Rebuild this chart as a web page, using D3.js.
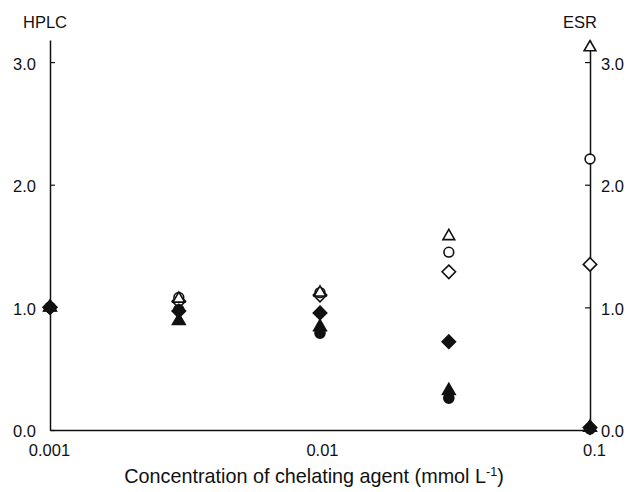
<!DOCTYPE html>
<html><head><meta charset="utf-8">
<script src="https://cdn.jsdelivr.net/npm/d3@7"></script>
<style>body{margin:0;background:#fff}svg{display:block}text{font-family:"Liberation Sans",Arial,sans-serif;fill:#111}</style>
</head><body><svg id="c" width="629" height="492"></svg>
<script>
const conc = [0.001, 0.003, 0.01, 0.03, 0.1];
const openTriangle = [1.0, 1.07, 1.12, 1.58, 3.12];
const openCircle   = [1.0, 1.08, 1.12, 1.45, 2.21];
const openDiamond  = [1.0, 1.05, 1.10, 1.29, 1.35];
const filledDiamond  = [1.0, 0.97, 0.955, 0.72, 0.02];
const filledTriangle = [1.0, 0.89, 0.84, 0.32, 0.02];
const filledCircle   = [1.0, 0.98, 0.79, 0.26, 0.01];
const xTicks = [0.001, 0.01, 0.1];
const xTickLabels = ["0.001", "0.01", "0.1"];
const yTicks = [0, 1, 2, 3];
const yTickLabels = ["0.0", "1.0", "2.0", "3.0"];

const svg = d3.select("#c");
const x = d3.scaleLog().domain([0.001, 0.1]).range([50, 590]);
const y = d3.scaleLinear().domain([0, 3.18]).range([430, 40]);

const FS = 16.5;
const left = d3.axisLeft(y).tickValues(yTicks).tickFormat((d,i)=>yTickLabels[i]).tickSizeInner(-5).tickSizeOuter(0).tickPadding(14);
const gl = svg.append("g").attr("transform","translate(50,0)").call(left);
const right = d3.axisRight(y).tickValues(yTicks).tickFormat((d,i)=>yTickLabels[i]).tickSizeInner(-5).tickSizeOuter(0).tickPadding(11);
const gr = svg.append("g").attr("transform","translate(590,0)").call(right);
const bottom = d3.axisBottom(x).tickValues(xTicks).tickFormat((d,i)=>xTickLabels[i]).tickSize(0).tickPadding(14);
const gb = svg.append("g").attr("transform","translate(0,430)").call(bottom);
[gl,gr,gb].forEach(g=>{
  g.selectAll(".domain").attr("stroke","#111").attr("stroke-width",1.5);
  g.selectAll(".tick line").attr("stroke","#111").attr("stroke-width",1.2);
  g.selectAll(".tick text").attr("font-size",FS).attr("fill","#111").style("font-family","Liberation Sans, Arial, sans-serif");
});
gl.selectAll(".tick text").attr("dy","0.42em");
gr.selectAll(".tick text").attr("dy","0.42em");
gb.selectAll(".tick text").attr("dx", (d,i)=> i===0 ? -1 : (i===2 ? 4 : 2));

svg.append("text").attr("x",23).attr("y",28).attr("font-size",FS).text("HPLC");
svg.append("text").attr("x",580).attr("y",28).attr("text-anchor","middle").attr("font-size",FS).text("ESR");
const t = svg.append("text").attr("x",314).attr("y",483).attr("text-anchor","middle").attr("font-size",19.8);
t.append("tspan").text("Concentration of chelating agent (mmol L");
t.append("tspan").attr("font-size",12.5).attr("dy",-7).text("-1");
t.append("tspan").attr("dy",7).text(")");

const sqDiamond = {draw(ctx, size){ const r = Math.sqrt(size)/Math.SQRT2; ctx.moveTo(0,-r); ctx.lineTo(r,0); ctx.lineTo(0,r); ctx.lineTo(-r,0); ctx.closePath(); }};
const series = [
  {v: openDiamond, type: sqDiamond, size: 90, fill: "#fff"},
  {v: openCircle, type: d3.symbolCircle, size: 75, fill: "#fff"},
  {v: openTriangle, type: d3.symbolTriangle, size: 60, fill: "#fff"},
  {v: filledDiamond, type: sqDiamond, size: 90, fill: "#111"},
  {v: filledTriangle, type: d3.symbolTriangle, size: 70, fill: "#111"},
  {v: filledCircle, type: d3.symbolCircle, size: 80, fill: "#111"}
];
series.forEach(s=>{
  svg.append("g").selectAll("path").data(conc.map((c,i)=>({c, v:s.v[i]}))).join("path")
    .attr("transform", d=>`translate(${x(d.c)},${y(d.v)})`)
    .attr("d", d3.symbol().type(s.type).size(s.size))
    .attr("fill", s.fill).attr("stroke","#111").attr("stroke-width",1.6);
});
</script></body></html>
